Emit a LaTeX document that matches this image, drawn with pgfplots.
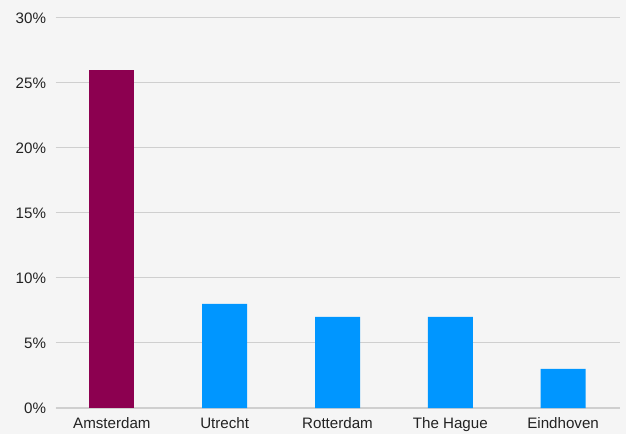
\documentclass[border=0pt]{standalone}
\usepackage{fontspec}
\setmainfont{Liberation Sans}
\usepackage{pgfplots}
\pgfplotsset{compat=1.18}
\definecolor{bg}{HTML}{F5F5F5}
\definecolor{gridc}{HTML}{CFCFCF}
\definecolor{maroon}{HTML}{8C0050}
\definecolor{blueb}{HTML}{0096FF}
\definecolor{txt}{HTML}{222222}
\begin{document}
\begin{tikzpicture}
\fill[bg] (-55.5bp,-26bp) rectangle (570.5bp,408bp);
\path[use as bounding box] (-55.5bp,-26bp) rectangle (570.5bp,408bp);
\begin{axis}[
  at={(0,0)}, anchor=south west,
  scale only axis, width=564bp, height=390bp,
  xmin=-0.5, xmax=4.5, ymin=0, ymax=30,
  axis line style={draw=none},
  xtick={0,1,2,3,4},
  xticklabels={Amsterdam,Utrecht,Rotterdam,The Hague,Eindhoven},
  ytick={0,5,10,15,20,25,30},
  yticklabel={\pgfmathprintnumber{\tick}\%},
  /pgf/number format/assume math mode=true,
  major tick length=0pt,
  ymajorgrids, grid style={gridc, line width=1bp},
  extra y ticks={0}, extra y tick labels={}, extra y tick style={grid style={gridc,line width=1.4bp}},
  ticklabel style={font=\fontsize{15.2}{18}\selectfont, text=txt},
  yticklabel style={xshift=-6bp},
  xticklabel style={yshift=-6bp},
  ybar, bar width=45bp,
]
\addplot[fill=maroon, draw=none, bar shift=0pt] coordinates {(0,26)};
\addplot[fill=blueb, draw=none, bar shift=0pt] coordinates {(1,8) (2,7) (3,7) (4,3)};
\end{axis}
\end{tikzpicture}
\end{document}
